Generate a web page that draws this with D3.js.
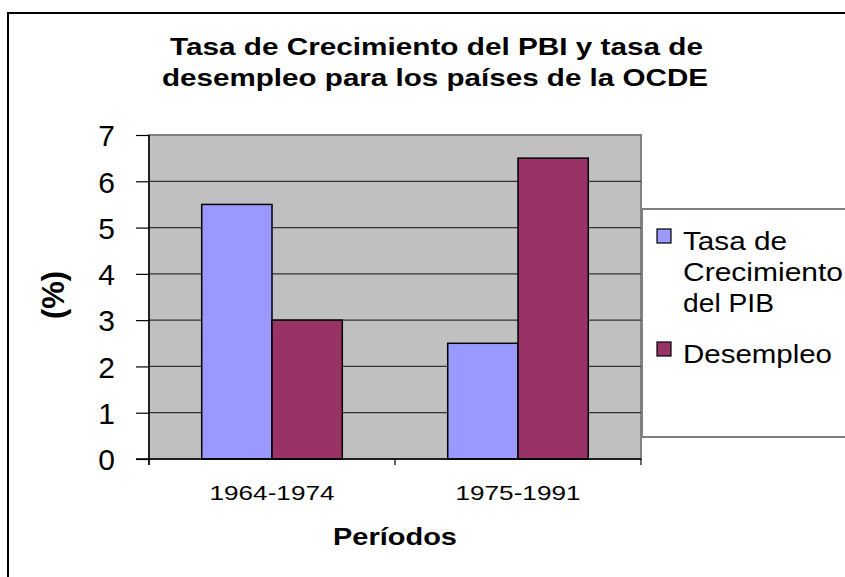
<!DOCTYPE html>
<html>
<head>
<meta charset="utf-8">
<script src="https://cdn.jsdelivr.net/npm/d3@7"></script>
<style>
  body { margin: 0; background: #fff; }
  text { font-family: "Liberation Sans", Arial, sans-serif; fill: #000; }
</style>
</head>
<body>
<svg id="chart" width="845" height="577"></svg>
<script>
const periods = ['1964-1974', '1975-1991'];
const seriesNames = ['Tasa de Crecimiento del PIB', 'Desempleo'];
const pibGrowth = [5.5, 2.5];
const unemployment = [3, 6.5];
const yTicks = [0, 1, 2, 3, 4, 5, 6, 7];
const titleLines = ['Tasa de Crecimiento del PBI y tasa de', 'desempleo para los países de la OCDE'];

const colors = ['#9999FF', '#993366'];
const seriesValues = [pibGrowth, unemployment];

const svg = d3.select('#chart');

// outer chart border (cropped at right/bottom like the reference)
svg.append('rect')
  .attr('x', 8).attr('y', 13)
  .attr('width', 860).attr('height', 600)
  .attr('fill', '#fff').attr('stroke', '#000').attr('stroke-width', 2);

const plot = { left: 149, right: 641, top: 135, bottom: 459 };

const x0 = d3.scaleBand().domain(periods).range([plot.left, plot.right]).padding(0);
const barW = x0.bandwidth() / 3.5;
const x1 = d3.scaleBand().domain(seriesNames).range([0, barW * 2]);
const y = d3.scaleLinear().domain([0, 7]).range([plot.bottom, plot.top]);

// plot area
svg.append('rect')
  .attr('x', plot.left).attr('y', plot.top)
  .attr('width', plot.right - plot.left).attr('height', plot.bottom - plot.top)
  .attr('fill', '#C0C0C0').attr('stroke', '#808080').attr('stroke-width', 2);

// gridlines
svg.append('g')
  .selectAll('line')
  .data(yTicks.filter(d => d > 0 && d < 7))
  .enter().append('line')
  .attr('x1', plot.left).attr('x2', plot.right)
  .attr('y1', d => y(d)).attr('y2', d => y(d))
  .attr('stroke', '#333').attr('stroke-width', 1.2);

// bars
const groups = svg.append('g')
  .selectAll('g')
  .data(periods)
  .enter().append('g')
  .attr('transform', d => `translate(${x0(d) + (x0.bandwidth() - barW * 2) / 2},0)`);

groups.selectAll('rect')
  .data((p, i) => seriesNames.map((s, j) => ({ s, j, v: seriesValues[j][i] })))
  .enter().append('rect')
  .attr('x', d => x1(d.s))
  .attr('y', d => y(d.v))
  .attr('width', x1.bandwidth())
  .attr('height', d => y(0) - y(d.v))
  .attr('fill', d => colors[d.j])
  .attr('stroke', '#000').attr('stroke-width', 1.5);

// y axis
const yAxis = d3.axisLeft(y).tickValues(yTicks).tickSize(13).tickPadding(21).tickFormat(d3.format('d'));
const yg = svg.append('g').attr('transform', `translate(${plot.left},0)`).call(yAxis);
yg.select('.domain').attr('d', `M0,${plot.top}V${plot.bottom + 6}`).attr('stroke', '#000').attr('stroke-width', 1.5);
yg.selectAll('.tick line').attr('stroke', '#000').attr('stroke-width', 1.2);
yg.selectAll('.tick text')
  .attr('font-size', 30).attr('dy', '0.36em')
  .style('font-family', '"Liberation Sans", Arial, sans-serif').attr('fill', '#000');

// x axis
const xg = svg.append('g').attr('transform', `translate(0,${plot.bottom})`);
xg.append('line')
  .attr('x1', plot.left - 13).attr('x2', plot.right)
  .attr('stroke', '#000').attr('stroke-width', 1.5);
xg.selectAll('.xtick')
  .data(d3.range(periods.length + 1))
  .enter().append('line')
  .attr('x1', i => plot.left + i * x0.step()).attr('x2', i => plot.left + i * x0.step())
  .attr('y1', 0).attr('y2', 6)
  .attr('stroke', '#000').attr('stroke-width', 1.2);
xg.selectAll('.xlab')
  .data(periods)
  .enter().append('text')
  .attr('x', d => x0(d) + x0.bandwidth() / 2 - 62.5)
  .attr('y', 41)
  .attr('font-size', 21)
  .attr('textLength', 125).attr('lengthAdjust', 'spacingAndGlyphs')
  .text(d => d);

// title
svg.append('g')
  .selectAll('text')
  .data(titleLines)
  .enter().append('text')
  .attr('x', (d, i) => i === 0 ? 170 : 162)
  .attr('y', (d, i) => 55 + i * 31)
  .attr('font-size', 23).attr('font-weight', 'bold')
  .attr('textLength', (d, i) => i === 0 ? 533 : 546).attr('lengthAdjust', 'spacingAndGlyphs')
  .text(d => d);

// axis titles
svg.append('text')
  .attr('x', 333).attr('y', 545)
  .attr('font-size', 24).attr('font-weight', 'bold')
  .attr('textLength', 124).attr('lengthAdjust', 'spacingAndGlyphs')
  .text('Períodos');

svg.append('text')
  .attr('transform', 'translate(64,295) rotate(-90)')
  .attr('text-anchor', 'middle')
  .attr('font-size', 31).attr('font-weight', 'bold')
  .text('(%)');

// legend
const legend = svg.append('g');
legend.append('rect')
  .attr('x', 642).attr('y', 209).attr('width', 230).attr('height', 228)
  .attr('fill', '#fff').attr('stroke', '#808080').attr('stroke-width', 2);

const legendLines = [
  [{ t: 'Tasa de', w: 104 }, { t: 'Crecimiento', w: 160 }, { t: 'del PIB', w: 91 }],
  [{ t: 'Desempleo', w: 149 }]
];
const legendTop = [229, 342];

legendLines.forEach((lines, j) => {
  legend.append('rect')
    .attr('x', 657).attr('y', legendTop[j]).attr('width', 14).attr('height', 14)
    .attr('fill', colors[j]).attr('stroke', '#000').attr('stroke-width', 1.2);
  lines.forEach((l, k) => {
    legend.append('text')
      .attr('x', 683).attr('y', legendTop[j] + 21 + k * 31)
      .attr('font-size', 25)
      .attr('textLength', l.w).attr('lengthAdjust', 'spacingAndGlyphs')
      .text(l.t);
  });
});
</script>
</body>
</html>
